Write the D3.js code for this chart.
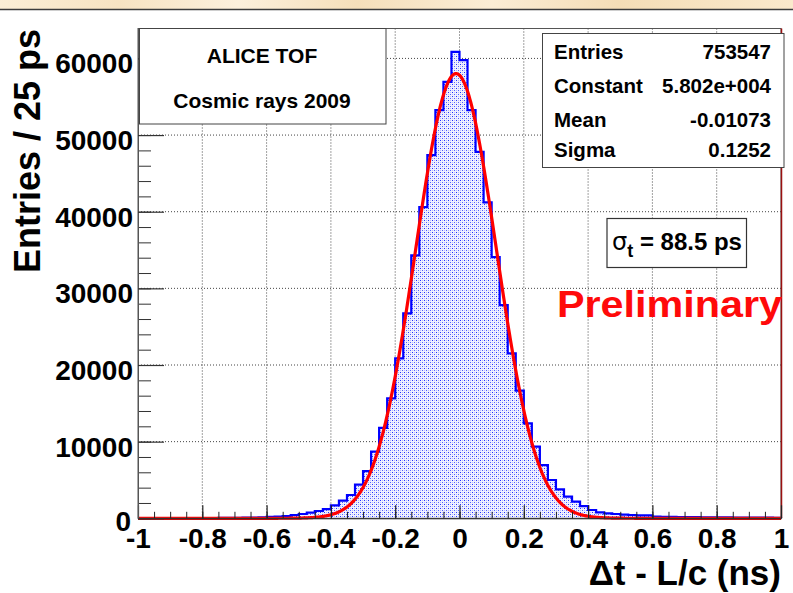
<!DOCTYPE html>
<html>
<head>
<meta charset="utf-8">
<script src="https://cdn.jsdelivr.net/npm/d3@7"></script>
<style>
  html, body { margin: 0; padding: 0; background: #ffffff; }
  svg { display: block; }
  text { font-family: "Liberation Sans", Arial, Helvetica, sans-serif; font-weight: bold; fill: #000; }
</style>
</head>
<body>
<svg id="chart" width="793" height="593"></svg>
<script>
// Time-of-flight residuals: 25 ps bins from -1 to 1 ns
const binLow = -1;
const binWidth = 0.025;
const counts = [
  8, 10, 12, 14, 16, 18, 22, 26, 30, 36, 44, 52, 62, 78,
  100, 130, 180, 220, 300, 430, 560, 730, 950, 1200,
  1680, 2300, 3040, 4400, 6150, 8690, 11800, 15650, 20870, 26740,
  34300, 40600, 47385, 53255, 56946, 60860, 59780, 53255, 47816, 41215,
  34080, 27820, 21520, 16650, 12390, 9340, 6950, 5000, 3780, 2820,
  2170, 1600, 1080, 780, 650, 560, 470, 430, 390, 370,
  220, 200, 185, 170, 160, 150, 140, 130, 120, 110,
  100, 95, 90, 85, 80, 75
];

// Gaussian fit result
const fitConstant = 58020;
const fitMean = -0.01073;
const fitSigma = 0.1252;

// Statistics box
const statLabels = ["Entries", "Constant", "Mean", "Sigma"];
const statValues = ["753547", "5.802e+004", "-0.01073", "0.1252"];

// Axis ticks
const xTicks = [-1, -0.8, -0.6, -0.4, -0.2, 0, 0.2, 0.4, 0.6, 0.8, 1];
const yTicks = [0, 10000, 20000, 30000, 40000, 50000, 60000];

const svg = d3.select("#chart");
const W = 793, H = 593;
const plot = { left: 138, right: 781, top: 28.5, bottom: 518.3 };

const x = d3.scaleLinear().domain([-1, 1]).range([plot.left, plot.right]);
const yMax = d3.max(counts) * 1.05;
const y = d3.scaleLinear().domain([0, yMax]).range([plot.bottom, plot.top]);

const defs = svg.append("defs");

// cream banner gradient along the top edge
const grad = defs.append("linearGradient").attr("id", "banner").attr("x1", 0).attr("x2", 1);
[["0%", "#fbeed6"], ["15%", "#f7e3c2"], ["30%", "#fcf0dc"], ["45%", "#f5dfba"],
 ["62%", "#fbedd5"], ["78%", "#f4ddb6"], ["100%", "#fae9cc"]]
  .forEach(([o, c]) => grad.append("stop").attr("offset", o).attr("stop-color", c));

// dotted fill pattern for the histogram
const pat = defs.append("pattern").attr("id", "dots")
  .attr("patternUnits", "userSpaceOnUse").attr("width", 4).attr("height", 4);
pat.append("rect").attr("width", 4).attr("height", 4).attr("fill", "#f0f1ff");
pat.append("rect").attr("x", 0).attr("y", 0).attr("width", 1).attr("height", 1).attr("fill", "#2030ff");
pat.append("rect").attr("x", 2).attr("y", 2).attr("width", 1).attr("height", 1).attr("fill", "#5060ff");
pat.append("rect").attr("x", 2).attr("y", 0).attr("width", 1).attr("height", 1).attr("fill", "#b8bdff");
pat.append("rect").attr("x", 0).attr("y", 2).attr("width", 1).attr("height", 1).attr("fill", "#b8bdff");

defs.append("clipPath").attr("id", "plotclip").append("rect")
  .attr("x", plot.left).attr("y", plot.top - 2)
  .attr("width", plot.right - plot.left + 2).attr("height", plot.bottom - plot.top + 4);

// page background and banner
svg.append("rect").attr("width", W).attr("height", H).attr("fill", "#ffffff");
svg.append("rect").attr("x", 0).attr("y", 0).attr("width", W).attr("height", 9).attr("fill", "url(#banner)");
svg.append("line").attr("x1", 0).attr("x2", W).attr("y1", 9.5).attr("y2", 9.5)
  .attr("stroke", "#3c3c3c").attr("stroke-width", 1.5);

// grid
const grid = svg.append("g").attr("stroke", "#444").attr("stroke-width", 1).attr("stroke-dasharray", "1 2");
grid.selectAll(".gx").data(xTicks.filter(t => t > -1 && t < 1)).join("line")
  .attr("x1", d => x(d)).attr("x2", d => x(d)).attr("y1", plot.top).attr("y2", plot.bottom);
grid.selectAll(".gy").data(yTicks.filter(t => t > 0)).join("line")
  .attr("y1", d => y(d)).attr("y2", d => y(d)).attr("x1", plot.left).attr("x2", plot.right);

// histogram
const pts = [[binLow, 0]];
counts.forEach((c, i) => pts.push([binLow + i * binWidth, c]));
pts.push([binLow + counts.length * binWidth, counts[counts.length - 1]]);
pts.push([binLow + counts.length * binWidth, 0]);

const g = svg.append("g").attr("clip-path", "url(#plotclip)");
g.append("path").datum(pts)
  .attr("d", d3.area().x(d => x(d[0])).y0(y(0)).y1(d => y(d[1])).curve(d3.curveStepAfter))
  .attr("fill", "url(#dots)");
g.append("path").datum(pts)
  .attr("d", d3.line().x(d => x(d[0])).y(d => y(d[1])).curve(d3.curveStepAfter))
  .attr("fill", "none").attr("stroke", "#0000ff").attr("stroke-width", 2.2);

// Gaussian fit curve
const gauss = v => fitConstant * Math.exp(-0.5 * Math.pow((v - fitMean) / fitSigma, 2));
const fx = d3.range(0, 801).map(i => -1 + i * 2 / 800);
g.append("path").datum(fx)
  .attr("d", d3.line().x(d => x(d)).y(d => y(gauss(d))))
  .attr("fill", "none").attr("stroke", "#ff0000").attr("stroke-width", 3.2)
  .attr("stroke-linejoin", "round");

// frame
svg.append("rect").attr("x", plot.left).attr("y", plot.top)
  .attr("width", plot.right - plot.left).attr("height", plot.bottom - plot.top)
  .attr("fill", "none").attr("stroke", "#555").attr("stroke-width", 1);
svg.append("line").attr("x1", plot.right + 0.5).attr("x2", plot.right + 0.5)
  .attr("y1", plot.top).attr("y2", plot.bottom).attr("stroke", "#9a1010").attr("stroke-width", 1.5);

// x axis
const xMinor = d3.range(0, 41).map(i => +(-1 + i * 0.05).toFixed(2));
const xAxisG = svg.append("g").attr("transform", `translate(0,${plot.bottom})`);
xAxisG.append("g").call(d3.axisBottom(x).tickValues(xMinor).tickSizeInner(-6.5).tickSizeOuter(0).tickFormat(""))
  .call(s => s.select(".domain").remove())
  .selectAll("line").attr("stroke", "#222");
const xAx = xAxisG.append("g").call(d3.axisBottom(x).tickValues(xTicks).tickSizeInner(-13).tickSizeOuter(0)
  .tickPadding(10).tickFormat(d => String(+d.toFixed(1))));
xAx.select(".domain").attr("stroke", "#222");
xAx.selectAll("line").attr("stroke", "#222").attr("stroke-width", 1.2);
xAx.selectAll("text").attr("font-size", 28).attr("font-family", "Liberation Sans, Arial, sans-serif")
  .attr("font-weight", "bold").attr("fill", "#000");

// y axis
const yMinor = d3.range(0, 32).map(i => i * 2000);
const yAxisG = svg.append("g").attr("transform", `translate(${plot.left},0)`);
yAxisG.append("g").call(d3.axisLeft(y).tickValues(yMinor).tickSizeInner(-13).tickSizeOuter(0).tickFormat(""))
  .call(s => s.select(".domain").remove())
  .selectAll("line").attr("stroke", "#333");
const yAx = yAxisG.append("g").call(d3.axisLeft(y).tickValues(yTicks).tickSizeInner(-26).tickSizeOuter(0)
  .tickPadding(5).tickFormat(d3.format("d")));
yAx.select(".domain").attr("stroke", "#555");
yAx.selectAll("line").attr("stroke", "#333").attr("stroke-width", 1.2);
yAx.selectAll("text").attr("font-size", 28).attr("dy", d => d === 0 ? "0.42em" : "0.52em")
  .attr("x", d => d === 0 ? -7 : -5)
  .attr("font-family", "Liberation Sans, Arial, sans-serif").attr("font-weight", "bold").attr("fill", "#000");

// axis titles
svg.append("text").attr("transform", "translate(40,29) rotate(-90)")
  .attr("text-anchor", "end").attr("font-size", 36).text("Entries / 25 ps");
svg.append("text").attr("x", 781).attr("y", 585).attr("text-anchor", "end")
  .attr("font-size", 35).text("\u0394t - L/c (ns)");

// title box
svg.append("rect").attr("x", 139.5).attr("y", 28.5).attr("width", 246.5).attr("height", 95.5)
  .attr("fill", "#fff").attr("stroke", "#444").attr("stroke-width", 1);
svg.append("text").attr("x", 262).attr("y", 63).attr("text-anchor", "middle").attr("font-size", 21).text("ALICE TOF");
svg.append("text").attr("x", 262).attr("y", 108).attr("text-anchor", "middle").attr("font-size", 21).text("Cosmic rays 2009");

// statistics box
svg.append("rect").attr("x", 542.5).attr("y", 33.5).attr("width", 241.5).attr("height", 134)
  .attr("fill", "#fff").attr("stroke", "#444").attr("stroke-width", 1);
const statY = [58.5, 92.5, 126.5, 157];
const stats = svg.append("g");
stats.selectAll(".sl").data(statLabels).join("text")
  .attr("x", 554).attr("y", (d, i) => statY[i]).attr("font-size", 20.5).text(d => d);
stats.selectAll(".sv").data(statValues).join("text")
  .attr("x", 771).attr("y", (d, i) => statY[i]).attr("text-anchor", "end").attr("font-size", 20.5).text(d => d);

// resolution box
svg.append("rect").attr("x", 607).attr("y", 218.5).attr("width", 139.5).attr("height", 49)
  .attr("fill", "#fff").attr("stroke", "#333").attr("stroke-width", 1.2);
const res = svg.append("text").attr("x", 612).attr("y", 250).attr("font-size", 24);
res.append("tspan").attr("font-weight", "normal").attr("font-family", "DejaVu Sans, sans-serif").text("\u03c3");
res.append("tspan").attr("dy", 7).attr("font-size", 18).text("t");
res.append("tspan").attr("dy", -7).text(" = 88.5 ps");

// preliminary stamp
svg.append("text").attr("x", 557).attr("y", 317)
  .attr("font-family", "'Comic Sans MS', 'DejaVu Sans', sans-serif").attr("font-weight", "bold")
  .attr("font-size", 36).attr("textLength", 225).attr("lengthAdjust", "spacingAndGlyphs")
  .style("fill", "#ff0a0a").text("Preliminary");
</script>
</body>
</html>
